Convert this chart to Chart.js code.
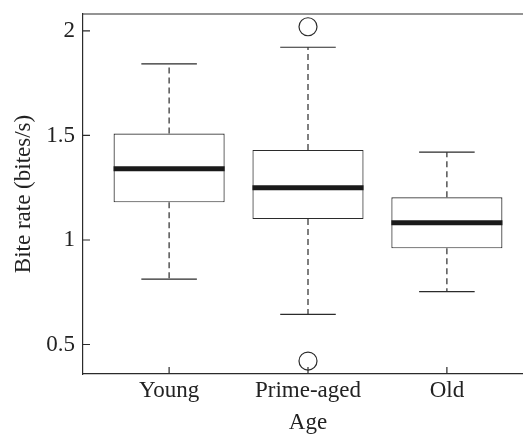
<!DOCTYPE html>
<html>
<head>
<meta charset="utf-8">
<script src="https://cdn.jsdelivr.net/npm/chart.js@4"></script>
<style>
  html, body { margin: 0; padding: 0; background: #fff; }
  /* the original figure is cut off on the right: the plot is wider than the frame */
  #frame { width: 523px; height: 434px; overflow: hidden; }
  #boxChart { display: block; width: 533px; height: 434px; }
</style>
</head>
<body>
<div id="frame"><canvas id="boxChart" width="533" height="434"></canvas></div>
<script>
// Bite rate by age class
const categories = ['Young', 'Prime-aged', 'Old'];
const positions = [1, 2, 3];
const whiskerLow = [0.813, 0.644, 0.753];
const q1Values = [1.18, 1.10, 0.96];
const medianValues = [1.341, 1.25, 1.083];
const q3Values = [1.509, 1.431, 1.204];
const whiskerHigh = [1.842, 1.922, 1.42];
const outlierX = [2, 2];
const outlierY = [2.02, 0.421];
const yTicks = [0.5, 1, 1.5, 2];

const lineColor = '#2b2b2b';
const textColor = '#222';
const serif = "'Liberation Serif', 'DejaVu Serif', serif";

// whiskers, medians, tick marks, top frame line
const boxExtras = {
    id: 'boxExtras',
    afterDatasetsDraw(chart) {
        const ctx = chart.ctx;
        const xs = chart.scales.x;
        const ys = chart.scales.y;
        const area = chart.chartArea;
        const boxW = xs.getPixelForValue(0.8) - xs.getPixelForValue(0);
        ctx.save();
        ctx.strokeStyle = lineColor;

        positions.forEach((p, i) => {
            const cx = xs.getPixelForValue(p);
            // dashed whiskers
            ctx.lineWidth = 1.2;
            ctx.setLineDash([6, 4]);
            ctx.beginPath();
            ctx.moveTo(cx, ys.getPixelForValue(q3Values[i]));
            ctx.lineTo(cx, ys.getPixelForValue(whiskerHigh[i]));
            ctx.moveTo(cx, ys.getPixelForValue(q1Values[i]));
            ctx.lineTo(cx, ys.getPixelForValue(whiskerLow[i]));
            ctx.stroke();
            ctx.setLineDash([]);
            // caps
            ctx.beginPath();
            [whiskerHigh[i], whiskerLow[i]].forEach(v => {
                const y = ys.getPixelForValue(v);
                ctx.moveTo(cx - boxW / 4, y);
                ctx.lineTo(cx + boxW / 4, y);
            });
            ctx.stroke();
            // median
            ctx.lineWidth = 5;
            ctx.strokeStyle = '#1a1a1a';
            ctx.beginPath();
            const my = ys.getPixelForValue(medianValues[i]);
            ctx.moveTo(cx - boxW / 2, my);
            ctx.lineTo(cx + boxW / 2, my);
            ctx.stroke();
            ctx.strokeStyle = lineColor;
        });

        // inward tick marks
        ctx.lineWidth = 1.2;
        ctx.beginPath();
        yTicks.forEach(v => {
            const y = ys.getPixelForValue(v);
            ctx.moveTo(area.left, y);
            ctx.lineTo(area.left + 7, y);
        });
        positions.forEach(p => {
            const x = xs.getPixelForValue(p);
            ctx.moveTo(x, area.bottom);
            ctx.lineTo(x, area.bottom - 7);
        });
        // top frame line
        ctx.moveTo(area.left, area.top);
        ctx.lineTo(area.right, area.top);
        ctx.stroke();
        ctx.restore();
    }
};

const ctx = document.getElementById('boxChart').getContext('2d');
new Chart(ctx, {
    type: 'bar',
    data: {
        datasets: [
            {
                type: 'bar',
                data: positions.map((p, i) => ({ x: p, y: [q1Values[i], q3Values[i]] })),
                backgroundColor: '#ffffff',
                borderColor: lineColor,
                borderWidth: 1.2,
                borderSkipped: false,
                categoryPercentage: 1,
                barPercentage: 0.8,
            },
            {
                type: 'scatter',
                data: outlierX.map((x, i) => ({ x: x, y: outlierY[i] })),
                pointStyle: 'circle',
                pointRadius: 9,
                pointBackgroundColor: '#ffffff',
                pointBorderColor: lineColor,
                pointBorderWidth: 1.2,
            },
        ],
    },
    options: {
        responsive: false,
        maintainAspectRatio: false,
        animation: false,
        devicePixelRatio: 1,
        layout: { autoPadding: false, padding: { top: 14, right: 0, left: 0, bottom: 0 } },
        plugins: {
            legend: { display: false },
            tooltip: { enabled: false },
        },
        scales: {
            x: {
                type: 'linear',
                offset: false,
                min: 0.38,
                max: 3.62,
                afterBuildTicks: (scale) => {
                    scale.ticks = positions.map(v => ({ value: v }));
                },
                afterFit: (scale) => {
                    scale.height = 60;
                    scale.paddingLeft = 0;
                    scale.paddingRight = 0;
                },
                ticks: {
                    callback: (v) => categories[positions.indexOf(v)] || '',
                    color: textColor,
                    font: { family: serif, size: 23 },
                    padding: 3,
                    maxRotation: 0,
                    autoSkip: false,
                },
                grid: { display: false, drawTicks: false },
                border: { display: true, color: lineColor, width: 1.2 },
                title: {
                    display: true,
                    text: 'Age',
                    color: textColor,
                    font: { family: serif, size: 23 },
                    padding: { top: 0, bottom: -3 },
                },
            },
            y: {
                min: 0.359,
                max: 2.081,
                afterBuildTicks: (scale) => {
                    scale.ticks = yTicks.map(v => ({ value: v }));
                },
                afterFit: (scale) => {
                    scale.width = 83;
                    scale.paddingTop = 0;
                    scale.paddingBottom = 0;
                },
                ticks: {
                    callback: (v) => String(v),
                    color: textColor,
                    font: { family: serif, size: 23 },
                    padding: 8,
                },
                grid: { display: false, drawTicks: false },
                border: { display: true, color: lineColor, width: 1.2 },
                title: {
                    display: true,
                    text: 'Bite rate (bites/s)',
                    color: textColor,
                    font: { family: serif, size: 23 },
                    padding: { top: 10, bottom: 0 },
                },
            },
        },
    },
    plugins: [boxExtras],
});
</script>
</body>
</html>
